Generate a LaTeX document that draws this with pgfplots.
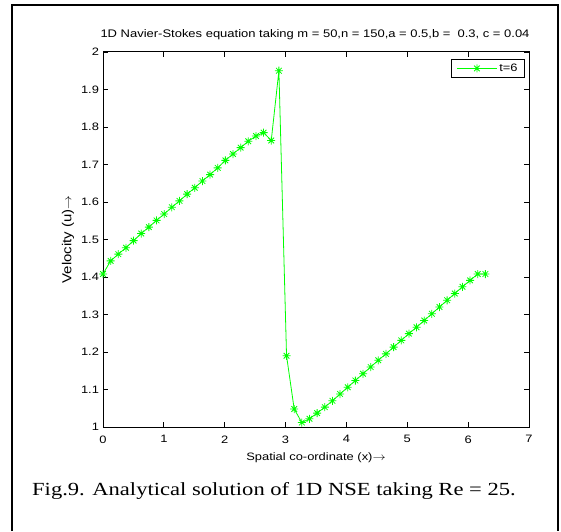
\documentclass[border=0pt]{standalone}
\usepackage{fontspec}
\setmainfont{Liberation Sans}
\newfontfamily\timesfont{Liberation Serif}
\usepackage{graphicx}
\usepackage{pgfplots}
\pgfplotsset{compat=1.18}
\newcommand{\sx}[1]{\scalebox{1.2}[1]{#1}}
\pgfdeclareplotmark{mstar}{%
  \pgfpathmoveto{\pgfqpoint{-\pgfplotmarksize}{0pt}}\pgfpathlineto{\pgfqpoint{\pgfplotmarksize}{0pt}}%
  \pgfpathmoveto{\pgfqpoint{0pt}{-\pgfplotmarksize}}\pgfpathlineto{\pgfqpoint{0pt}{\pgfplotmarksize}}%
  \pgfpathmoveto{\pgfqpoint{-0.707\pgfplotmarksize}{-0.707\pgfplotmarksize}}\pgfpathlineto{\pgfqpoint{0.707\pgfplotmarksize}{0.707\pgfplotmarksize}}%
  \pgfpathmoveto{\pgfqpoint{-0.707\pgfplotmarksize}{0.707\pgfplotmarksize}}\pgfpathlineto{\pgfqpoint{0.707\pgfplotmarksize}{-0.707\pgfplotmarksize}}%
  \pgfusepathqstroke}
\definecolor{mgreen}{rgb}{0,1,0}
\begin{document}
\begin{tikzpicture}[x=1pt,y=1pt]
\useasboundingbox (0,0) rectangle (561,531);
\draw[line width=2.5pt] (12,0) -- (12,526) -- (558,526) -- (558,0);
\begin{axis}[
  at={(103pt,104pt)}, anchor=south west,
  width=426pt, height=375pt, scale only axis,
  xmin=0, xmax=7, ymin=1, ymax=2,
  xtick={0,1,2,3,4,5,6,7},
  xticklabels={\sx{0},\sx{1},\sx{2},\sx{3},\sx{4},\sx{5},\sx{6},\sx{7}},
  ytick={1,1.1,1.2,1.3,1.4,1.5,1.6,1.7,1.8,1.9,2},
  yticklabels={\sx{1},\sx{1.1},\sx{1.2},\sx{1.3},\sx{1.4},\sx{1.5},\sx{1.6},\sx{1.7},\sx{1.8},\sx{1.9},\sx{2}},
  xtick pos=both, ytick pos=both,
  xticklabel pos=lower, yticklabel pos=left,
  tick align=inside, major tick length=5pt,
  axis line style={line width=1pt},
  tick style={line width=0.8pt, black},
  /pgf/number format/assume math mode=true,
  ticklabel style={font=\fontsize{10.75}{12}\selectfont},
  xticklabel style={yshift=-5pt},
  yticklabel style={xshift=-0.5pt},
  xlabel={\sx{Spatial co-ordinate (x)$\rightarrow$}},
  ylabel={\scalebox{1.15}[1]{Velocity (u)$\rightarrow$}},
  xlabel style={font=\fontsize{10.75}{13}\selectfont, at={(axis description cs:0.5,0)}, anchor=center, yshift=-31pt},
  ylabel style={font=\fontsize{13}{15}\selectfont, at={(axis description cs:0,0.5)}, anchor=center, yshift=35pt},
  legend style={at={(rel axis cs:1,1)}, anchor=north east, xshift=-4pt, yshift=-7pt,
    draw=black, line width=0.8pt, font=\fontsize{10.75}{12}\selectfont, inner xsep=5pt, inner ysep=2.5pt},
  legend image code/.code={\draw[#1, mark repeat=2, mark phase=2] plot coordinates {(0pt,0pt) (20pt,0pt) (40pt,0pt)};},
]
\addplot[color=mgreen, line width=0.8pt, mark=mstar, mark size=4pt] coordinates {
(0,1.408) (0.1257,1.443) (0.2513,1.461) (0.3770,1.478) (0.5027,1.497)
(0.6283,1.516) (0.7540,1.533) (0.8796,1.551) (1.0053,1.568) (1.1310,1.586)
(1.2566,1.603) (1.3823,1.621) (1.5080,1.638) (1.6336,1.656) (1.7593,1.673)
(1.8850,1.691) (2.0106,1.711) (2.1363,1.728) (2.2619,1.745) (2.3876,1.762)
(2.5133,1.776) (2.6389,1.785) (2.7646,1.764) (2.8903,1.950) (3.0159,1.190)
(3.1416,1.048) (3.2673,1.012) (3.3929,1.022) (3.5186,1.037) (3.6442,1.053)
(3.7699,1.070) (3.8956,1.088) (4.0212,1.106) (4.1469,1.124) (4.2726,1.142)
(4.3982,1.160) (4.5239,1.178) (4.6496,1.195) (4.7752,1.213) (4.9009,1.231)
(5.0265,1.249) (5.1522,1.266) (5.2779,1.284) (5.4035,1.302) (5.5292,1.320)
(5.6549,1.338) (5.7805,1.356) (5.9062,1.374) (6.0319,1.391) (6.1575,1.408)
(6.2832,1.408)
};
\addlegendentry{\sx{t=6}}
\end{axis}
\node[font=\fontsize{11}{13}\selectfont, anchor=center, inner sep=0pt] at (315,496) {\scalebox{1.18}[1]{1D Navier-Stokes equation taking m = 50,n = 150,a = 0.5,b = \ 0.3, c = 0.04}};
\node[font=\timesfont\fontsize{18.5}{20}\selectfont, anchor=base west, inner sep=0pt] at (32,36) {\scalebox{1.22}[1]{Fig.9. Analytical solution of 1D NSE taking Re = 25.}};
\end{tikzpicture}
\end{document}
